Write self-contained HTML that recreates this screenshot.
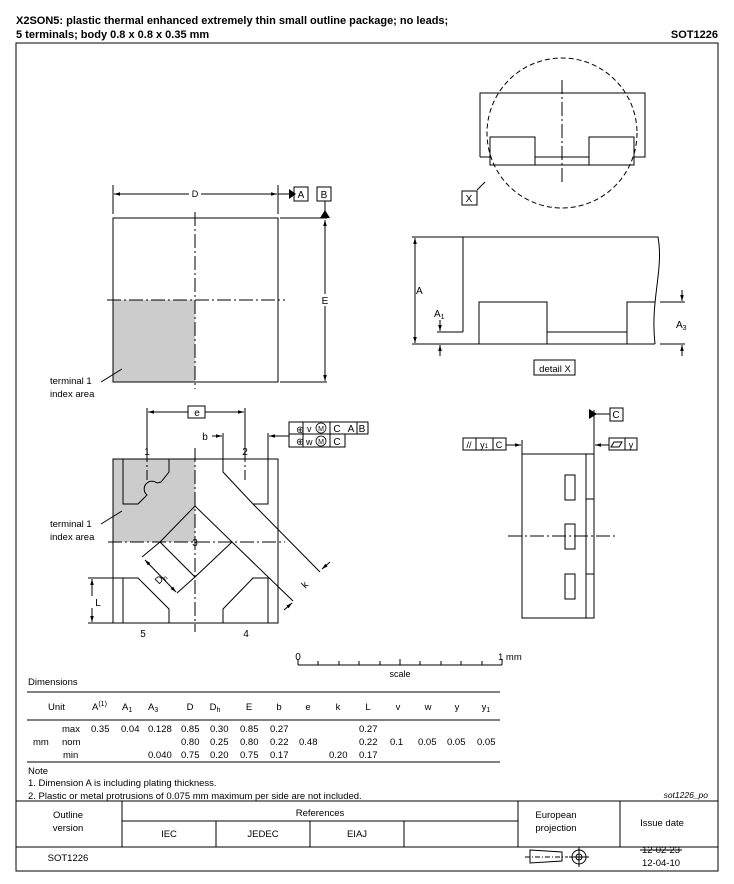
<!DOCTYPE html>
<html><head><meta charset="utf-8"><style>
body{margin:0;background:#fff}
svg{display:block;font-family:"Liberation Sans",sans-serif}
</style></head><body>
<svg width="734" height="884" viewBox="0 0 734 884" xmlns="http://www.w3.org/2000/svg">
<defs>
<marker id="ar" viewBox="0 0 10 10" refX="10" refY="5" markerWidth="6" markerHeight="6" orient="auto-start-reverse"><path d="M0,2 L10,5 L0,8 z" fill="#000"/></marker>
</defs>
<g font-size="11" font-weight="bold">
<text x="16" y="24">X2SON5: plastic thermal enhanced extremely thin small outline package; no leads;</text>
<text x="16" y="38">5 terminals; body 0.8 x 0.8 x 0.35 mm</text>
<text x="718" y="38" text-anchor="end">SOT1226</text>
</g>
<rect x="16" y="43" width="702" height="828" fill="none" stroke="#000" stroke-width="1"/>
<g stroke="#000" stroke-width="1" fill="none">
<!-- top view -->
<rect x="113" y="300" width="82" height="82" fill="#ccc" stroke="none"/>
<rect x="113" y="218" width="165" height="164"/>
<line x1="195" y1="212" x2="195" y2="389" stroke-dasharray="14,3,2,3"/>
<line x1="107" y1="300" x2="285" y2="300" stroke-dasharray="14,3,2,3"/>
<line x1="113" y1="185" x2="113" y2="214"/><line x1="278" y1="185" x2="278" y2="214"/>
<line x1="114" y1="194" x2="189" y2="194" marker-start="url(#ar)"/>
<line x1="201" y1="194" x2="277" y2="194" marker-end="url(#ar)"/>
<line x1="278" y1="194" x2="294" y2="194"/>
<line x1="280" y1="218" x2="327" y2="218"/><line x1="280" y1="382" x2="327" y2="382"/>
<line x1="325" y1="201" x2="325" y2="218"/>
<line x1="325" y1="220" x2="325" y2="294" marker-start="url(#ar)"/>
<line x1="325" y1="306" x2="325" y2="381" marker-end="url(#ar)"/>
<rect x="294" y="187" width="14" height="14"/><rect x="317" y="187" width="14" height="14"/>
<line x1="101" y1="382" x2="122" y2="369"/>
<!-- detail circle -->
<circle cx="562" cy="133" r="75" stroke-dasharray="5,3"/>
<path d="M480,157 V93 H645 V157 H634"/>
<rect x="490" y="137" width="45" height="28"/><rect x="589" y="137" width="45" height="28"/>
<line x1="535" y1="157" x2="589" y2="157"/><line x1="535" y1="165" x2="589" y2="165"/>
<line x1="562" y1="80" x2="562" y2="185" stroke-dasharray="14,3,2,3"/>
<line x1="480" y1="157" x2="490" y2="157"/>
<line x1="477" y1="190" x2="485" y2="182"/>
<rect x="462" y="191" width="15" height="14"/>
<!-- detail X -->
<path d="M463,332 V237 H658 C664,270 650,300 655,344"/>
<rect x="479" y="302" width="68" height="42"/>
<path d="M547,332 H627 M547,344 H627"/>
<path d="M655,302 H627 V344 H655"/>
<line x1="412" y1="237" x2="463" y2="237"/><line x1="412" y1="344" x2="479" y2="344"/>
<line x1="437" y1="332" x2="463" y2="332"/>
<line x1="415" y1="238" x2="415" y2="343" marker-start="url(#ar)" marker-end="url(#ar)"/>
<line x1="440" y1="320" x2="440" y2="331" marker-end="url(#ar)"/>
<line x1="440" y1="356" x2="440" y2="345" marker-end="url(#ar)"/>
<line x1="660" y1="302" x2="685" y2="302"/><line x1="660" y1="344" x2="685" y2="344"/>
<line x1="682" y1="290" x2="682" y2="301" marker-end="url(#ar)"/>
<line x1="682" y1="356" x2="682" y2="345" marker-end="url(#ar)"/>
<rect x="534" y="360" width="41" height="15"/>
<!-- bottom view -->
<rect x="113" y="459" width="82" height="83" fill="#ccc" stroke="none"/>
<rect x="113" y="459" width="165" height="164"/>
<path d="M123,459 V504 H138 L147,495 A7,7 0 0 1 157,483 L161,482 L169,472 V459"/>
<path d="M223,459 V472 L253,504 H268 V459"/>
<path d="M195,506 L160,542 L195,577 L232,542 Z"/>
<path d="M123,623 V578 H138 L169,609 V623"/>
<path d="M223,623 V609 L253,578 H268 V623"/>
<line x1="195" y1="448" x2="195" y2="632" stroke-dasharray="14,3,2,3"/>
<line x1="108" y1="542" x2="285" y2="542" stroke-dasharray="14,3,2,3"/>
<line x1="147" y1="448" x2="147" y2="480" stroke-dasharray="14,3,2,3"/>
<line x1="245" y1="448" x2="245" y2="480" stroke-dasharray="14,3,2,3"/>
<line x1="253" y1="504" x2="320" y2="572"/>
<line x1="232" y1="542" x2="293" y2="601"/>
<line x1="330" y1="562" x2="322" y2="569" marker-end="url(#ar)"/>
<line x1="284" y1="610" x2="292" y2="603" marker-end="url(#ar)"/>
<line x1="160" y1="542" x2="142" y2="557"/><line x1="195" y1="577" x2="177" y2="593"/>
<line x1="145" y1="560" x2="176" y2="592" marker-start="url(#ar)" marker-end="url(#ar)"/>
<line x1="88" y1="578" x2="123" y2="578"/><line x1="88" y1="623" x2="113" y2="623"/>
<line x1="92" y1="579" x2="92" y2="596" marker-start="url(#ar)"/>
<line x1="92" y1="608" x2="92" y2="622" marker-end="url(#ar)"/>
<line x1="147" y1="408" x2="147" y2="455"/><line x1="245" y1="408" x2="245" y2="455"/>
<line x1="148" y1="412" x2="188" y2="412" marker-start="url(#ar)"/>
<line x1="205" y1="412" x2="244" y2="412" marker-end="url(#ar)"/>
<rect x="188" y="406" width="17" height="12"/>
<line x1="223" y1="433" x2="223" y2="472"/><line x1="268" y1="433" x2="268" y2="459"/>
<line x1="212" y1="436" x2="222" y2="436" marker-end="url(#ar)"/>
<line x1="289" y1="436" x2="269" y2="436" marker-end="url(#ar)"/>
<path d="M289,422 H368 V434 H345 V447 H289 Z M289,434 H345 M303,422 V447 M330,422 V447 M357,422 V434"/>
<line x1="101" y1="524" x2="122" y2="511"/>
<!-- side view -->
<rect x="522" y="454" width="72" height="164"/>
<line x1="586" y1="454" x2="586" y2="618"/>
<line x1="586" y1="499" x2="594" y2="499"/><line x1="586" y1="574" x2="594" y2="574"/>
<rect x="565" y="475" width="10" height="25"/><rect x="565" y="524" width="10" height="25"/><rect x="565" y="574" width="10" height="25"/>
<line x1="508" y1="536" x2="615" y2="536" stroke-dasharray="14,3,2,3"/>
<line x1="522" y1="440" x2="522" y2="454"/><line x1="594" y1="410" x2="594" y2="454"/>
<line x1="506" y1="445" x2="521" y2="445" marker-end="url(#ar)"/>
<line x1="609" y1="445" x2="595" y2="445" marker-end="url(#ar)"/>
<path d="M463,438 H506 V450 H463 Z M476,438 V450 M493,438 V450"/>
<path d="M609,438 H637 V450 H609 Z M625,438 V450"/>
<path d="M614,442 H622 L619,447 H611 Z"/>
<line x1="594" y1="414" x2="610" y2="414"/>
<rect x="610" y="408" width="13" height="13"/>
<!-- scale -->
<line x1="298" y1="665" x2="502" y2="665"/>
<path d="M298,659 V665 M318,661 V665 M339,661 V665 M359,661 V665 M380,661 V665 M400,659 V665 M420,661 V665 M441,661 V665 M461,661 V665 M482,661 V665 M502,659 V665"/>
<!-- table lines -->
<line x1="27" y1="692" x2="500" y2="692"/>
<line x1="27" y1="720" x2="500" y2="720"/>
<line x1="27" y1="762" x2="500" y2="762"/>
<line x1="16" y1="801" x2="718" y2="801"/>
<line x1="16" y1="847" x2="718" y2="847"/>
<line x1="122" y1="801" x2="122" y2="847"/><line x1="518" y1="801" x2="518" y2="847"/><line x1="620" y1="801" x2="620" y2="847"/>
<line x1="122" y1="821" x2="518" y2="821"/>
<line x1="216" y1="821" x2="216" y2="847"/><line x1="310" y1="821" x2="310" y2="847"/><line x1="404" y1="821" x2="404" y2="847"/>
<!-- projection -->
<path d="M530,850 L562,852 V861 L530,863 Z"/>
<line x1="525" y1="857" x2="568" y2="857" stroke-dasharray="5,2,1,2"/>
<circle cx="579" cy="857" r="7"/><circle cx="579" cy="857" r="3"/>
<line x1="569" y1="857" x2="589" y2="857"/><line x1="579" y1="847" x2="579" y2="867"/>
</g>
<g fill="#000" font-size="10">
<circle cx="497" cy="411" r="0"/>
<path d="M589,409 L597,414 L589,419 Z" fill="#000"/>
<path d="M289,189 L296,194 L289,199 Z"/>
<path d="M320,215 L325,207 L330,215 Z" transform="translate(0,3)"/>
<text x="195" y="197" text-anchor="middle" font-size="9">D</text>
<text x="301" y="198" text-anchor="middle">A</text><text x="324" y="198" text-anchor="middle">B</text>
<text x="325" y="304" text-anchor="middle">E</text>
<text x="50" y="384" font-size="9.5">terminal 1</text><text x="50" y="397" font-size="9.5">index area</text>
<text x="50" y="527" font-size="9.5">terminal 1</text><text x="50" y="540" font-size="9.5">index area</text>
<text x="469" y="202" text-anchor="middle">X</text>
<text x="416" y="294">A</text>
<text x="434" y="317">A<tspan font-size="7" dy="2">1</tspan></text>
<text x="676" y="328">A<tspan font-size="7" dy="2">3</tspan></text>
<text x="555" y="372" text-anchor="middle" font-size="9.5">detail X</text>
<text x="197" y="416" text-anchor="middle">e</text>
<text x="205" y="440" text-anchor="middle">b</text>
<text x="147" y="455" text-anchor="middle">1</text><text x="245" y="455" text-anchor="middle">2</text>
<text x="195" y="546" text-anchor="middle">3</text>
<text x="143" y="637" text-anchor="middle">5</text><text x="246" y="637" text-anchor="middle">4</text>
<text x="98" y="606" text-anchor="middle">L</text>
<text x="305" y="588" text-anchor="middle" transform="rotate(-45 305 585)">k</text>
<text x="160" y="582" text-anchor="middle" transform="rotate(-45 160 578)">D<tspan font-size="7" dy="2">h</tspan></text>
<text x="296" y="433" font-size="10">⊕</text><text x="307" y="432" font-size="9">v</text><circle cx="321" cy="428" r="5" fill="none" stroke="#000" stroke-width="0.8"/><text x="321" y="431" font-size="7" text-anchor="middle">M</text>
<text x="337" y="432" text-anchor="middle">C</text><text x="351" y="432" text-anchor="middle">A</text><text x="362" y="432" text-anchor="middle">B</text>
<text x="296" y="445" font-size="10">⊕</text><text x="306" y="445" font-size="9">w</text><circle cx="321" cy="441" r="5" fill="none" stroke="#000" stroke-width="0.8"/><text x="321" y="444" font-size="7" text-anchor="middle">M</text>
<text x="337" y="445" text-anchor="middle">C</text>
<text x="469" y="448" font-size="9" text-anchor="middle">//</text>
<text x="484" y="448" font-size="9" text-anchor="middle">y<tspan font-size="6">1</tspan></text>
<text x="499" y="448" font-size="9" text-anchor="middle">C</text>
<text x="616" y="418" text-anchor="middle">C</text>
<text x="631" y="448" text-anchor="middle" font-size="9">y</text>
<text x="298" y="660" text-anchor="middle">0</text>
<text x="498" y="660" font-size="9.5">1 mm</text>
<text x="400" y="677" text-anchor="middle" font-size="9">scale</text>
<g font-size="9.5">
<text x="28" y="685">Dimensions</text>
<text x="48" y="710">Unit</text>
<text x="92" y="710">A<tspan font-size="7" dy="-4">(1)</tspan></text>
<text x="122" y="710">A<tspan font-size="7" dy="2">1</tspan></text>
<text x="148" y="710">A<tspan font-size="7" dy="2">3</tspan></text>
<text x="190" y="710" text-anchor="middle">D</text>
<text x="215" y="710" text-anchor="middle">D<tspan font-size="7" dy="2">h</tspan></text>
<text x="249" y="710" text-anchor="middle">E</text>
<text x="279" y="710" text-anchor="middle">b</text>
<text x="308" y="710" text-anchor="middle">e</text>
<text x="338" y="710" text-anchor="middle">k</text>
<text x="368" y="710" text-anchor="middle">L</text>
<text x="398" y="710" text-anchor="middle">v</text>
<text x="428" y="710" text-anchor="middle">w</text>
<text x="457" y="710" text-anchor="middle">y</text>
<text x="486" y="710" text-anchor="middle">y<tspan font-size="7" dy="2">1</tspan></text>
<text x="62" y="732">max</text><text x="91" y="732">0.35</text><text x="121" y="732">0.04</text><text x="148" y="732">0.128</text><text x="181" y="732">0.85</text><text x="210" y="732">0.30</text><text x="240" y="732">0.85</text><text x="270" y="732">0.27</text><text x="359" y="732">0.27</text>
<text x="33" y="745">mm</text><text x="62" y="745">nom</text><text x="181" y="745">0.80</text><text x="210" y="745">0.25</text><text x="240" y="745">0.80</text><text x="270" y="745">0.22</text><text x="299" y="745">0.48</text><text x="359" y="745">0.22</text><text x="390" y="745">0.1</text><text x="418" y="745">0.05</text><text x="447" y="745">0.05</text><text x="477" y="745">0.05</text>
<text x="63" y="758">min</text><text x="148" y="758">0.040</text><text x="181" y="758">0.75</text><text x="210" y="758">0.20</text><text x="240" y="758">0.75</text><text x="270" y="758">0.17</text><text x="329" y="758">0.20</text><text x="359" y="758">0.17</text>
<text x="28" y="774">Note</text>
<text x="28" y="786">1. Dimension A is including plating thickness.</text>
<text x="28" y="799">2. Plastic or metal protrusions of 0.075 mm maximum per side are not included.</text>
<text x="708" y="798" text-anchor="end" font-style="italic" font-size="8.5">sot1226_po</text>
<text x="68" y="818" text-anchor="middle">Outline</text><text x="68" y="831" text-anchor="middle">version</text>
<text x="320" y="816" text-anchor="middle">References</text>
<text x="169" y="837" text-anchor="middle">IEC</text><text x="263" y="837" text-anchor="middle">JEDEC</text><text x="357" y="837" text-anchor="middle">EIAJ</text>
<text x="556" y="818" text-anchor="middle">European</text><text x="556" y="831" text-anchor="middle">projection</text>
<text x="662" y="826" text-anchor="middle">Issue date</text>
<text x="68" y="861" text-anchor="middle">SOT1226</text>
<text x="661" y="853" text-anchor="middle">12-02-23</text>
<line x1="640" y1="850" x2="682" y2="850" stroke="#000"/>
<text x="661" y="866" text-anchor="middle">12-04-10</text>
</g>
</g>
</svg>
</body></html>
